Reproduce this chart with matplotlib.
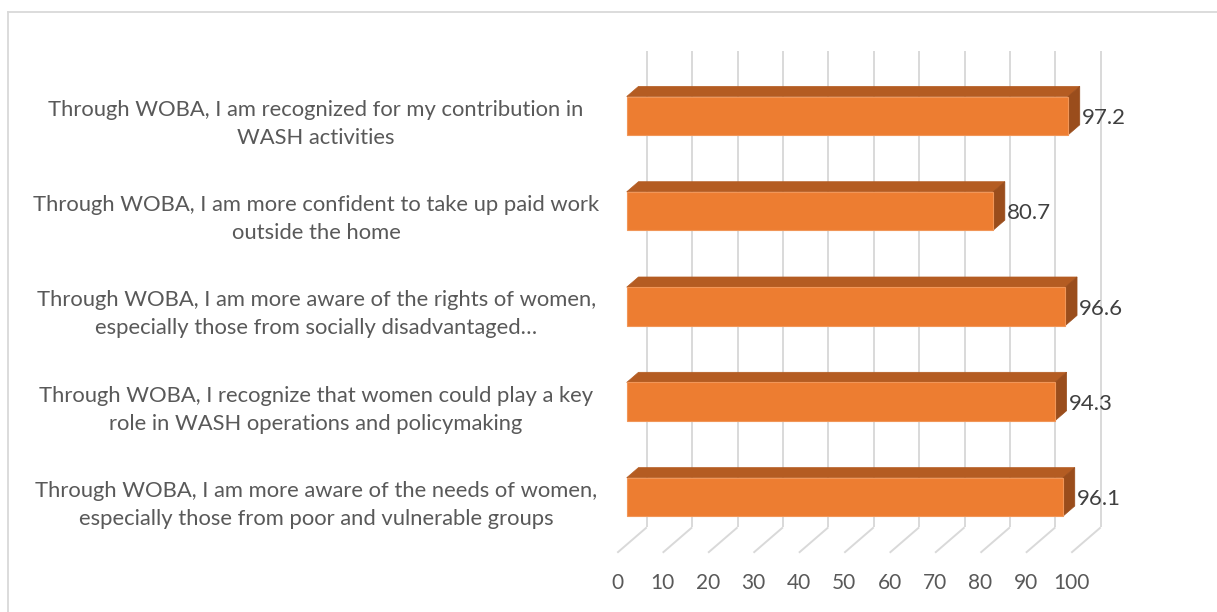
import matplotlib
matplotlib.use("Agg")
import matplotlib.pyplot as plt
from matplotlib.patches import Polygon
from matplotlib.lines import Line2D

plt.rcParams["font.family"] = ["Lato", "DejaVu Sans"]

# survey items, bottom to top
labels = [
    "Through WOBA, I am more aware of the needs of women,\nespecially those from poor and vulnerable groups",
    "Through WOBA, I recognize that women could play a key\nrole in WASH operations and policymaking",
    "Through WOBA, I am more aware of the rights of women,\nespecially those from socially disadvantaged\u2026",
    "Through WOBA, I am more confident to take up paid work\noutside the home",
    "Through WOBA, I am recognized for my contribution in\nWASH activities",
]
values = [96.1, 94.3, 96.6, 80.7, 97.2]
ticks = [0, 10, 20, 30, 40, 50, 60, 70, 80, 90, 100]

C_FRONT = "#ED7D31"; C_EDGE = "#F19658"; C_TOP = "#B45C22"; C_SIDE = "#9A4D1C"
C_GRID = "#D9D9D9"; C_TXT = "#595959"; C_VAL = "#404040"

# oblique projection: depth z (floor fractions, 0 = bar front) shifts x and y
KX, KY = 6.48, 0.2665
Z_FLOOR, Z_BAR, Z_WALL = -0.32, 0.40, 0.68
HALF = 0.2015
N = len(values)
LABEL_X = -68.4

def proj(v, c, z):
    return (v + z * KX, c + z * KY)

fig = plt.figure(figsize=(12.17, 6.12), dpi=100)
ax = fig.add_axes([0, 0, 1, 1])
ax.set_xlim(-138.04, 130.02)
ax.set_ylim(-0.7072, 5.7146)
ax.axis("off")

# back wall and floor gridlines
for t in ticks:
    x0, y0 = proj(t, 0, Z_WALL)
    x1, y1 = proj(t, N, Z_WALL)
    ax.plot([x0, x1], [y0, y1], color=C_GRID, lw=1.4, zorder=1, solid_capstyle="butt")
    xf, yf = proj(t, 0, Z_FLOOR)
    ax.plot([xf, x0], [yf, y0], color=C_GRID, lw=1.4, zorder=1, solid_capstyle="butt")
    ax.text(xf, yf - 0.32, str(t), ha="center", va="center", fontsize=15, color=C_TXT)

# 3-D bars
for i, (v, lab) in enumerate(zip(values, labels)):
    c = i + 0.5
    lo, hi = c - HALF, c + HALF
    top = [proj(0, hi, 0), proj(v, hi, 0), proj(v, hi, Z_BAR), proj(0, hi, Z_BAR)]
    side = [proj(v, lo, 0), proj(v, hi, 0), proj(v, hi, Z_BAR), proj(v, lo, Z_BAR)]
    front = [proj(0, lo, 0), proj(v, lo, 0), proj(v, hi, 0), proj(0, hi, 0)]
    ax.add_patch(Polygon(top, closed=True, fc=C_TOP, ec=C_TOP, lw=0.5, zorder=3))
    ax.add_patch(Polygon(side, closed=True, fc=C_SIDE, ec=C_SIDE, lw=0.5, zorder=3))
    ax.add_patch(Polygon(front, closed=True, fc=C_FRONT, ec=C_EDGE, lw=0.8, zorder=4))
    xv, _ = proj(v, c, Z_BAR)
    ax.text(xv + 0.5, c - 0.025, f"{v:.1f}", ha="left", va="center",
            fontsize=16, color=C_VAL, zorder=5)
    _, yl = proj(LABEL_X, c, Z_FLOOR)
    ax.text(LABEL_X, yl, lab, ha="center", va="center", fontsize=15.8,
            color=C_TXT, linespacing=1.5)

# chart frame
fig.add_artist(Line2D([7.5 / 1217, 7.5 / 1217], [0, 1 - 11.5 / 612],
                      transform=fig.transFigure, color=C_GRID, lw=1.3))
fig.add_artist(Line2D([7.5 / 1217, 1], [1 - 11.5 / 612, 1 - 11.5 / 612],
                      transform=fig.transFigure, color=C_GRID, lw=1.3))

fig.savefig("out.png", dpi=100)
